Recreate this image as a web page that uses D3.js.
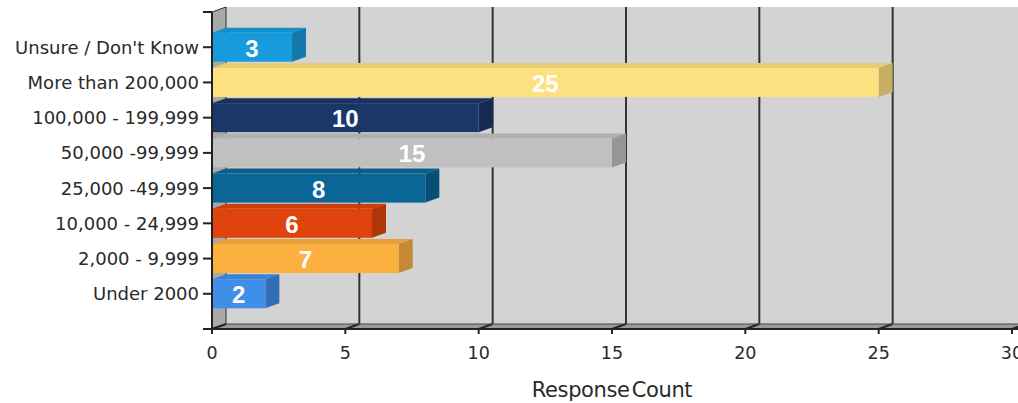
<!DOCTYPE html>
<html>
<head>
<meta charset="utf-8">
<script src="https://cdn.jsdelivr.net/npm/d3@7"></script>
<style>
  body { margin: 0; background: #fff; }
  svg { display: block; }
</style>
</head>
<body>
<svg id="chart"></svg>
<script>
const categories = ["Unsure / Don't Know", "More than 200,000", "100,000 - 199,999",
  "50,000 -99,999", "25,000 -49,999", "10,000 - 24,999", "2,000 - 9,999", "Under 2000"];
const counts = [3, 25, 10, 15, 8, 6, 7, 2];
const barColors = ["#189bdc", "#fde07f", "#1b3768", "#c0c0c0", "#0a6696", "#e0440e", "#fbb03f", "#3f8ee8"];
const xTicks = [0, 5, 10, 15, 20, 25, 30];

const width = 1018, height = 403;
const depthX = 14, depthY = -5;
const plotTop = 12, plotBottom = 329, left = 212;

const svg = d3.select("#chart").attr("width", width).attr("height", height);

const x = d3.scaleLinear().domain([0, 30]).range([left, 1012]);
const y = d3.scalePoint().domain(categories).range([plotTop, plotBottom]).padding(1);
const barH = 29;

// back wall
svg.append("rect")
  .attr("x", left + depthX).attr("y", plotTop + depthY)
  .attr("width", width - left - depthX).attr("height", plotBottom - plotTop)
  .attr("fill", "#d3d3d3");

// left wall
svg.append("polygon")
  .attr("points", [[left, plotTop], [left + depthX, plotTop + depthY],
    [left + depthX, plotBottom + depthY], [left, plotBottom]].join(" "))
  .attr("fill", "#a9a9a9").attr("stroke", "#333").attr("stroke-width", 1);

// floor
svg.append("polygon")
  .attr("points", [[left, plotBottom], [left + depthX, plotBottom + depthY],
    [width, plotBottom + depthY], [width, plotBottom]].join(" "))
  .attr("fill", "#9a9a9a");

// grid lines on back wall
svg.selectAll(".grid")
  .data(xTicks.slice(1))
  .enter()
  .append("line")
  .attr("x1", d => x(d) + depthX).attr("x2", d => x(d) + depthX)
  .attr("y1", plotTop + depthY).attr("y2", plotBottom + depthY)
  .attr("stroke", "#333").attr("stroke-width", 2);

svg.selectAll(".floorgrid")
  .data(xTicks)
  .enter()
  .append("line")
  .attr("x1", d => x(d)).attr("x2", d => x(d) + depthX)
  .attr("y1", plotBottom).attr("y2", plotBottom + depthY)
  .attr("stroke", "#222").attr("stroke-width", 2);

svg.append("line")
  .attr("x1", left + depthX).attr("x2", width)
  .attr("y1", plotBottom + depthY).attr("y2", plotBottom + depthY)
  .attr("stroke", "#444").attr("stroke-width", 1);

// bars
const bars = svg.selectAll(".bar")
  .data(counts)
  .enter()
  .append("g")
  .attr("class", "bar");

bars.append("polygon")
  .attr("points", (d, i) => {
    const y0 = y(categories[i]) - barH / 2;
    return [[x(0), y0], [x(0) + depthX, y0 + depthY], [x(d) + depthX, y0 + depthY], [x(d), y0]].join(" ");
  })
  .attr("fill", (d, i) => d3.color(barColors[i]).darker(0.25));

bars.append("polygon")
  .attr("points", (d, i) => {
    const y0 = y(categories[i]) - barH / 2;
    return [[x(d), y0], [x(d) + depthX, y0 + depthY], [x(d) + depthX, y0 + barH + depthY], [x(d), y0 + barH]].join(" ");
  })
  .attr("fill", (d, i) => d3.color(barColors[i]).darker(0.7));

bars.append("rect")
  .attr("x", x(0))
  .attr("y", (d, i) => y(categories[i]) - barH / 2)
  .attr("width", d => x(d) - x(0))
  .attr("height", barH)
  .attr("fill", (d, i) => barColors[i]);

bars.append("text")
  .attr("x", d => (x(0) + x(d)) / 2)
  .attr("y", (d, i) => y(categories[i]) + 1)
  .attr("text-anchor", "middle")
  .attr("dominant-baseline", "central")
  .attr("font-family", "Liberation Sans, Arial, sans-serif")
  .attr("font-weight", "bold")
  .attr("font-size", 24)
  .attr("fill", "#fff")
  .text(d => d);

// y axis
const yAxis = svg.append("g");
yAxis.append("line")
  .attr("x1", left).attr("x2", left)
  .attr("y1", plotTop).attr("y2", plotBottom)
  .attr("stroke", "#222").attr("stroke-width", 2);
yAxis.append("line")
  .attr("x1", left - 9).attr("x2", left)
  .attr("y1", plotTop).attr("y2", plotTop)
  .attr("stroke", "#222").attr("stroke-width", 2);
yAxis.selectAll(".ytick")
  .data(categories)
  .enter()
  .append("line")
  .attr("x1", left - 9).attr("x2", left)
  .attr("y1", d => y(d)).attr("y2", d => y(d))
  .attr("stroke", "#222").attr("stroke-width", 2);
yAxis.selectAll(".ylabel")
  .data(categories)
  .enter()
  .append("text")
  .attr("x", left - 13)
  .attr("y", d => y(d))
  .attr("text-anchor", "end")
  .attr("dominant-baseline", "central")
  .attr("font-family", "DejaVu Sans, Verdana, sans-serif")
  .attr("font-size", 18)
  .attr("fill", "#2a2a2a")
  .text(d => d);

// x axis
const xAxis = svg.append("g");
xAxis.append("line")
  .attr("x1", left - 9).attr("x2", width)
  .attr("y1", plotBottom).attr("y2", plotBottom)
  .attr("stroke", "#222").attr("stroke-width", 2);
xAxis.selectAll(".xtick")
  .data(xTicks)
  .enter()
  .append("line")
  .attr("x1", d => x(d)).attr("x2", d => x(d))
  .attr("y1", plotBottom).attr("y2", plotBottom + 5)
  .attr("stroke", "#222").attr("stroke-width", 2);
xAxis.selectAll(".xlabel")
  .data(xTicks)
  .enter()
  .append("text")
  .attr("x", d => x(d))
  .attr("y", 359)
  .attr("text-anchor", "middle")
  .attr("font-family", "DejaVu Sans, Verdana, sans-serif")
  .attr("font-size", 17.5)
  .attr("fill", "#2a2a2a")
  .text(d => d);

svg.append("text")
  .attr("x", 612)
  .attr("y", 397)
  .attr("text-anchor", "middle")
  .attr("font-family", "DejaVu Sans, Verdana, sans-serif")
  .attr("font-size", 21)
  .attr("letter-spacing", -0.4)
  .attr("word-spacing", -4)
  .attr("fill", "#2a2a2a")
  .text("Response Count");
</script>
</body>
</html>
